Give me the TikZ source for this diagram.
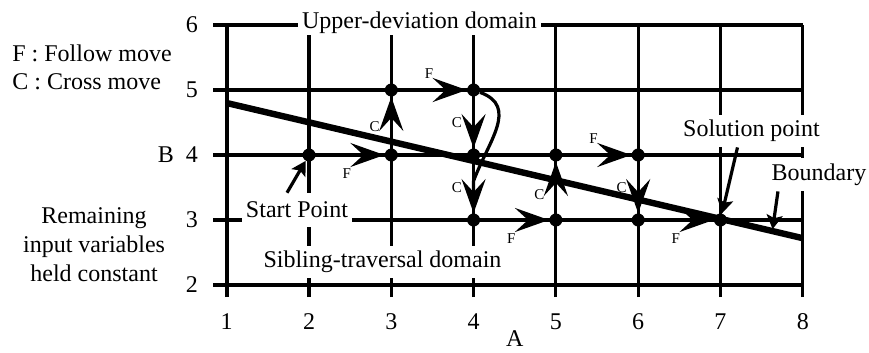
\documentclass[tikz,border=0pt]{standalone}
\usepackage{fontspec}
\setmainfont{Liberation Serif}
\usetikzlibrary{arrows.meta}

\begin{document}
\begin{tikzpicture}[
  x=41.15pt, y=32.5pt,
  every node/.style={font=\fontsize{12}{14}\selectfont},
  gridln/.style={line width=1.6pt},
  axisln/.style={line width=2.2pt},
  boundary/.style={line width=3.2pt},
  dotn/.style={circle, fill=black, inner sep=0pt, minimum size=6.5pt},
  mv/.style={line width=1.6pt, -{Stealth[length=17pt,width=12pt,inset=6.5pt]}},
  ptr/.style={line width=1.6pt, -{Stealth[length=7pt,width=8pt,inset=1.5pt]}},
  lab/.style={font=\fontsize{7.5}{9}\selectfont, inner sep=0pt},
  lbl/.style={fill=white, inner xsep=2pt}
]
  \useasboundingbox (-1.755,0.969) rectangle (8.805,6.385);
  % Grid
  \foreach \y in {3,...,6} \draw[gridln] (0.834,\y) -- (8,\y);
  \foreach \x in {2,...,8} \draw[gridln] (\x,1.815) -- (\x,6);
  \draw[axisln] (0.834,2) -- (8,2);
  \draw[axisln] (1,1.815) -- (1,6);
  % Axis labels
  \foreach \y in {2,3,5,6} \node[anchor=east] (ly\y) at (0.736,\y) {\y};
  \node[anchor=east] (ly4) at (0.736,4) {B\enspace4};
  \foreach \x in {1,...,8} \node (lx\x) at (\x,1.431) {\x};
  \node[inner sep=1pt] (la) at (4.5,1.18) {A};
  % Boundary
  \draw[boundary] (1,4.8) -- (8,2.72);
  \coordinate (bpt) at (7.63,2.83);
  % Texts
  \node[anchor=west, align=left, inner sep=0pt] (key) at (-1.609,5.354) {F : Follow move\\C : Cross move};
  \node[align=center, font=\fontsize{12}{14.5}\selectfont] (rem) at (-0.612,2.615) {Remaining\\input variables\\held constant};
  \node[lbl, inner ysep=1pt]    (upper) at (3.343,6.04)  {Upper-deviation domain};
  \node[lbl, inner ysep=4.4pt]  (start) at (1.854,3.154) {Start Point};
  \node[lbl, inner ysep=2.35pt] (sib)   at (2.893,2.354) {Sibling-traversal domain};
  \node[lbl, inner ysep=2.6pt]  (sol)   at (7.377,4.37)  {Solution point};
  \node[lbl, inner ysep=2.8pt]  (bnd)   at (8.197,3.70)  {Boundary};
  % Points
  \node[dotn] (d24) at (2,4) {};
  \node[dotn] (d34) at (3,4) {};
  \node[dotn] (d35) at (3,5) {};
  \node[dotn] (d45) at (4,5) {};
  \node[dotn] (d44) at (4,4) {};
  \node[dotn] (d43) at (4,3) {};
  \node[dotn] (d53) at (5,3) {};
  \node[dotn] (d54) at (5,4) {};
  \node[dotn] (d64) at (6,4) {};
  \node[dotn] (d63) at (6,3) {};
  \node[dotn] (d73) at (7,3) {};
  \coordinate (ce) at (4,3.6);
  % Moves
  \draw[mv] (d24) -- node[lab,pos=.45,below=6pt]{F} (d34);
  \draw[mv] (d34) -- node[lab,pos=.42,left=5pt]{C} (d35);
  \draw[mv] (d35) -- node[lab,pos=.45,above=5pt]{F} (d45);
  \draw[mv] (d45) -- node[lab,pos=.5,left=5pt]{C} (d44);
  \draw[mv] (d45) to[out=-20,in=70,looseness=1.2] (ce) -- node[lab,pos=.2,left=5pt]{C} (d43);
  \draw[mv] (d43) -- node[lab,pos=.45,below=6pt]{F} (d53);
  \draw[mv] (d53) -- node[lab,pos=.36,left=5pt]{C} (d54);
  \draw[mv] (d54) -- node[lab,pos=.45,above=5pt]{F} (d64);
  \draw[mv] (d64) -- node[lab,pos=.5,left=5pt]{C} (d63);
  \draw[mv] (d63) -- node[lab,pos=.45,below=6pt]{F} (d73);
  % Pointers
  \draw[ptr] ([xshift=-5pt]start.north) -- (d24);
  \draw[ptr] ([xshift=-7pt]sol.south) -- (d73);
  \draw[ptr, shorten >=1pt] ([xshift=-20.5pt]bnd.south) -- (bpt);
\end{tikzpicture}
\end{document}
